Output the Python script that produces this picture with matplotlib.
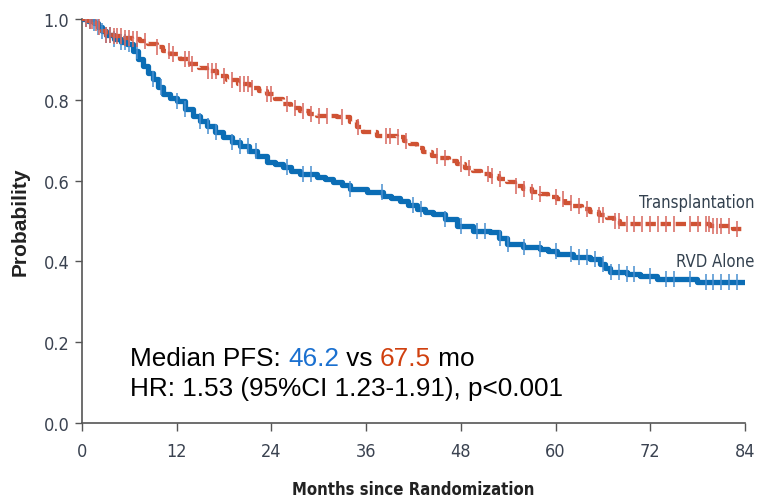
import numpy as np
import matplotlib
matplotlib.use("Agg")
import matplotlib.pyplot as plt

# ---- data ----
trans_months = [0, 0.8, 1.5, 2.0, 2.5, 3.0, 4.0, 5.2, 6.3, 7.3, 8.4, 9.5, 10.3, 11.1, 12.4,
                13.7, 14.8, 15.8, 17.1, 18.4, 19.8, 21.3, 22.4, 23.4, 24.5, 25.5, 26.5, 27.6,
                28.7, 29.8, 32.3, 34.0, 34.8, 35.6, 37.4, 39.9, 40.8, 41.6, 42.4, 43.2, 44.3,
                45.4, 46.5, 47.5, 48.5, 49.5, 50.6, 51.7, 52.8, 53.8, 54.9, 55.9, 57.0, 58.0,
                59.1, 60.2, 61.2, 62.2, 63.3, 64.4, 65.5, 66.5, 67.4, 68.2, 74.1, 79.6, 82.5,
                84.0]
trans_prob = [1.0, 0.995, 0.99, 0.98, 0.97, 0.96, 0.957, 0.953, 0.950, 0.945, 0.938, 0.930,
              0.922, 0.913, 0.900, 0.889, 0.880, 0.871, 0.860, 0.850, 0.840, 0.830, 0.822,
              0.814, 0.802, 0.790, 0.781, 0.772, 0.766, 0.760, 0.757, 0.745, 0.732, 0.720,
              0.710, 0.708, 0.699, 0.690, 0.680, 0.670, 0.662, 0.655, 0.648, 0.641, 0.632,
              0.624, 0.617, 0.611, 0.603, 0.596, 0.587, 0.579, 0.573, 0.567, 0.560, 0.554,
              0.545, 0.537, 0.529, 0.522, 0.514, 0.507, 0.500, 0.493, 0.493, 0.488, 0.480,
              0.477]

rvd_months = [0, 0.8, 1.5, 2.0, 2.5, 3.0, 4.0, 5.0, 5.7, 6.5, 7.1, 7.7, 8.4, 9.0, 9.6, 10.3,
              11.1, 12.0, 13.0, 14.1, 15.0, 15.8, 16.8, 17.9, 19.0, 20.0, 21.1, 22.2, 23.4,
              24.5, 25.5, 26.5, 27.6, 29.8, 30.8, 31.8, 32.9, 34.0, 36.1, 38.1, 39.2, 40.3,
              41.3, 42.4, 43.5, 44.5, 46.0, 47.5, 49.5, 51.7, 52.8, 53.8, 55.9, 58.0, 59.1,
              60.2, 62.2, 64.4, 65.6, 66.3, 66.9, 69.0, 70.7, 72.8, 77.9, 84.0]
rvd_prob = [1.0, 0.995, 0.99, 0.98, 0.97, 0.96, 0.950, 0.943, 0.938, 0.920, 0.900, 0.884,
            0.867, 0.851, 0.832, 0.814, 0.805, 0.797, 0.778, 0.760, 0.747, 0.735, 0.720,
            0.708, 0.696, 0.686, 0.673, 0.661, 0.646, 0.640, 0.634, 0.625, 0.616, 0.609,
            0.603, 0.597, 0.588, 0.579, 0.572, 0.562, 0.556, 0.550, 0.540, 0.530, 0.523,
            0.517, 0.505, 0.488, 0.475, 0.472, 0.458, 0.443, 0.436, 0.431, 0.425, 0.418,
            0.411, 0.406, 0.394, 0.384, 0.374, 0.369, 0.364, 0.356, 0.350, 0.350]

trans_censor = [0.5, 1, 1.3, 1.8, 2.2, 3, 3.5, 4, 4.5, 5, 5.5, 6, 6.5, 7, 8, 9.5, 11, 11.5, 13,
                13.5, 14, 16, 16.5, 17, 18, 19, 20, 20.5, 21, 21.5, 23.5, 24, 26, 27, 28, 29,
                30, 31, 33, 35, 38.5, 39, 40, 41, 45, 46, 48, 49, 51.5, 52, 53, 55, 56, 57,
                58, 60, 61, 62, 63, 64, 65.5, 66, 67.5, 68, 69, 70, 71, 72, 73, 74, 75, 77,
                78, 79, 79.5, 80, 80.5, 81, 82, 83]
rvd_censor = [0.5, 1, 1.5, 2, 2.5, 3, 3.5, 4, 5, 5.5, 6, 7, 9, 10, 12, 13, 15, 16, 17, 19, 20,
              21, 22, 26, 28, 29, 34, 38, 42, 43, 46, 48, 50, 51, 53, 54, 56, 58, 60, 62, 63,
              64, 65, 66, 67, 68, 69, 70, 72, 74, 75, 77, 79, 80, 81, 82, 83]

x_ticks = [0, 12, 24, 36, 48, 60, 72, 84]
y_ticks = [0.0, 0.2, 0.4, 0.6, 0.8, 1.0]

BLUE = "#0b6db5"
RED = "#cf5233"
TICKC = "#3a4250"

def step_val(ts, ps, t):
    i = np.searchsorted(ts, t, side="right") - 1
    return np.asarray(ps)[i]

fig = plt.figure(figsize=(7.57, 5.02), dpi=100)
ax = fig.add_axes([0.1083, 0.1554, 0.8758, 0.8046])

ax.step(rvd_months, rvd_prob, where="post", color=BLUE, lw=3.8, zorder=3)
ax.step(trans_months, trans_prob, where="post", color=RED, lw=3.1,
        linestyle=(0, (2.4, 1.1)), zorder=3)

rc_y = [step_val(rvd_months, rvd_prob, t) for t in rvd_censor]
tc_y = [step_val(trans_months, trans_prob, t) for t in trans_censor]
ax.plot(rvd_censor, rc_y, linestyle="none", marker="|", ms=11, mew=1.3,
        color="#4a90d0", alpha=0.85, zorder=4)
ax.plot(trans_censor, tc_y, linestyle="none", marker="|", ms=12, mew=1.3,
        color="#d8675e", alpha=0.85, zorder=4)

ax.set_xlim(0, 84)
ax.set_ylim(0, 1.0)
ax.set_xticks(x_ticks)
ax.set_yticks(y_ticks)
ax.set_xticklabels([str(v) for v in x_ticks])
ax.set_yticklabels([f"{v:.1f}" for v in y_ticks])
for s in ["top", "right"]:
    ax.spines[s].set_visible(False)
for s in ["left", "bottom"]:
    ax.spines[s].set_color("#555555")
    ax.spines[s].set_linewidth(1.2)
ax.tick_params(axis="y", direction="out", length=5, width=1.0, color="#555555",
               labelcolor=TICKC, labelsize=13, pad=4)
ax.tick_params(axis="x", direction="out", length=6, width=1.0, color="#555555",
               labelcolor=TICKC, labelsize=13, pad=8)
cond = ["DejaVu Sans"]
for lab in ax.get_xticklabels() + ax.get_yticklabels():
    lab.set_family(cond)
    lab.set_fontstretch("condensed")

fig.text(0.027, 0.558, "Probability", rotation=90, ha="center", va="center",
         fontsize=15, fontweight="bold", color="#222222", family=["Liberation Sans", "DejaVu Sans"])
fig.text(0.546, 0.024, "Months since Randomization", ha="center", va="center",
         fontsize=12, fontweight="bold", color="#222222", family=cond,
         fontstretch="condensed")

fig.text(0.997, 0.596, "Transplantation", ha="right", va="center", fontsize=12,
         color="#33414f", family=cond, fontstretch="condensed")
fig.text(0.997, 0.478, "RVD Alone", ha="right", va="center", fontsize=12,
         color="#33414f", family=cond, fontstretch="condensed")

afam = ["Liberation Sans", "DejaVu Sans"]
fs = 18.8
t1 = ax.text(0.0725, 0.143, "Median PFS: ", transform=ax.transAxes, fontsize=fs,
             color="black", family=afam, ha="left", va="baseline")
t2 = ax.annotate("46.2", xy=(1, 0), xycoords=t1, fontsize=fs, color="#1a70d0",
                 family=afam, ha="left", va="bottom")
t3 = ax.annotate(" vs ", xy=(1, 0), xycoords=t2, fontsize=fs, color="black",
                 family=afam, ha="left", va="bottom")
t4 = ax.annotate("67.5", xy=(1, 0), xycoords=t3, fontsize=fs, color="#d0400f",
                 family=afam, ha="left", va="bottom")
t5 = ax.annotate(" mo", xy=(1, 0), xycoords=t4, fontsize=fs, color="black",
                 family=afam, ha="left", va="bottom")
ax.text(0.0725, 0.069, "HR: 1.53 (95%CI 1.23-1.91), p<0.001", transform=ax.transAxes,
        fontsize=fs, color="black", family=afam, ha="left", va="baseline")

fig.savefig("out.png", dpi=100)
